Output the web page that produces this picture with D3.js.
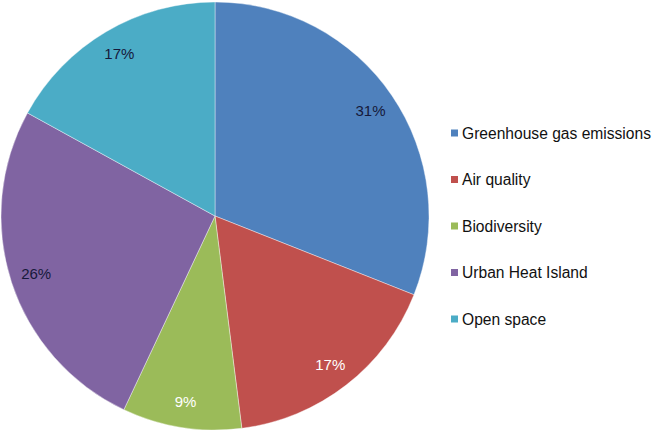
<!DOCTYPE html>
<html>
<head>
<meta charset="utf-8">
<script src="https://d3js.org/d3.v7.min.js"></script>
<style>
  body { margin: 0; background: #fff; }
  text { font-family: "Liberation Sans", Arial, sans-serif; }
</style>
</head>
<body>
<div id="chart"></div>
<script>
// data
var categories = ["Greenhouse gas emissions", "Air quality", "Biodiversity", "Urban Heat Island", "Open space"];
var shares = [31, 17, 9, 26, 17];
var colours = ["#4f81bd", "#c0504d", "#9bbb59", "#8064a2", "#4bacc6"];
var labelColours = ["#16193a", "#ffffff", "#ffffff", "#16193a", "#16193a"];

var width = 654, height = 433;
var cx = 215, cy = 216, radius = 214;

var svg = d3.select("#chart").append("svg")
    .attr("width", width)
    .attr("height", height);

var data = categories.map(function(c, i) { return { name: c, value: shares[i], i: i }; });

var pie = d3.pie().sort(null).value(function(d) { return d.value; });
var arc = d3.arc().innerRadius(0).outerRadius(radius);
var labelArc = d3.arc().innerRadius(188).outerRadius(188);

var g = svg.append("g").attr("transform", "translate(" + cx + "," + cy + ")");

var slices = g.selectAll("g.slice")
    .data(pie(data))
    .enter().append("g")
    .attr("class", "slice");

slices.append("path")
    .attr("d", arc)
    .attr("fill", function(d) { return colours[d.data.i]; })
    .attr("stroke", "#ffffff")
    .attr("stroke-width", 0.4);

slices.append("text")
    .attr("transform", function(d) { return "translate(" + labelArc.centroid(d) + ")"; })
    .attr("text-anchor", "middle")
    .attr("dy", "0.35em")
    .style("font-size", "15px")
    .attr("fill", function(d) { return labelColours[d.data.i]; })
    .text(function(d) { return d.data.value + "%"; });

// legend
var legend = svg.append("g").attr("transform", "translate(451,133)");

var rows = legend.selectAll("g.row")
    .data(data)
    .enter().append("g")
    .attr("class", "row")
    .attr("transform", function(d, i) { return "translate(0," + (i * 46.5) + ")"; });

rows.append("rect")
    .attr("x", 0)
    .attr("y", -3.5)
    .attr("width", 7)
    .attr("height", 7)
    .attr("fill", function(d) { return colours[d.i]; });

rows.append("text")
    .attr("x", 11)
    .attr("dy", "0.36em")
    .style("font-size", "15.6px")
    .attr("fill", "#111111")
    .text(function(d) { return d.name; });
</script>
</body>
</html>
